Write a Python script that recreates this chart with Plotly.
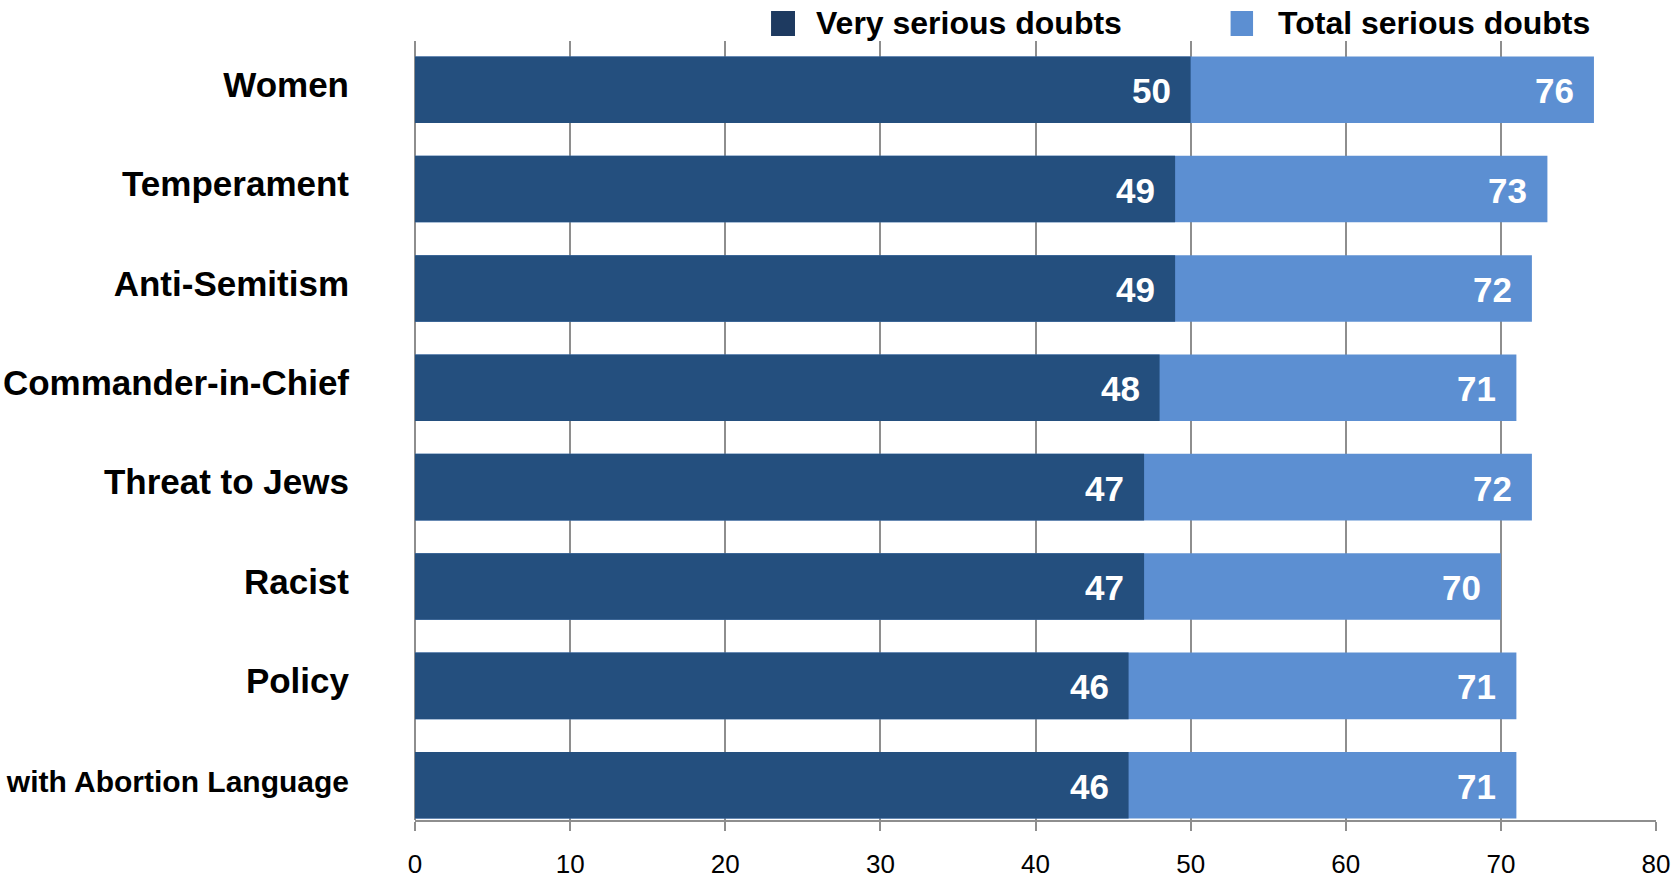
import plotly.graph_objects as go

categories = ["Women", "Temperament", "Anti-Semitism", "Commander-in-Chief",
              "Threat to Jews", "Racist", "Policy", "with Abortion Language"]
very_serious = [50, 49, 49, 48, 47, 47, 46, 46]
total_serious = [76, 73, 72, 71, 72, 70, 71, 71]
x_ticks = [0, 10, 20, 30, 40, 50, 60, 70, 80]
series_names = ["Very serious doubts", "Total serious doubts"]

DARK = "#244F7E"
LIGHT = "#5C8FD2"
LEGEND_DARK = "#1E3A60"
GRID = "#8E8E8E"
FONT = "Liberation Sans, Arial, sans-serif"

fig = go.Figure()
fig.add_trace(go.Bar(
    y=categories, x=total_serious, orientation="h", name=series_names[1],
    marker=dict(color=LIGHT, line=dict(width=0)), showlegend=False,
    hoverinfo="x+y",
))
fig.add_trace(go.Bar(
    y=categories, x=very_serious, orientation="h", name=series_names[0],
    marker=dict(color=DARK, line=dict(width=0)), showlegend=False,
    hoverinfo="x+y",
))

annotations = []
for cat, v, t in zip(categories, very_serious, total_serious):
    for val in (v, t):
        annotations.append(dict(
            x=val, y=cat, xref="x", yref="y", text=str(val), showarrow=False,
            xanchor="right", yanchor="middle", xshift=-18, yshift=-1,
            font=dict(family=FONT, size=35, color="white", weight="bold"),
        ))

# manual legend (swatches + text)
legend_items = [(series_names[0], LEGEND_DARK, 0.2869, 0.3062, 0.3215),
                (series_names[1], LIGHT, 0.6572, 0.6753, 0.6940)]
shapes = []
for name, col, x0, x1, xt in legend_items:
    shapes.append(dict(type="rect", xref="paper", yref="paper",
                       x0=x0, x1=x1, y0=1.0064, y1=1.0385,
                       fillcolor=col, line=dict(width=0), layer="above"))
    annotations.append(dict(
        x=xt, y=1.0225, xref="paper", yref="paper", text=name, showarrow=False,
        xanchor="left", yanchor="middle",
        font=dict(family=FONT, size=32, color="black", weight="bold"),
    ))

tick_text = [c if len(c) < 20 else '<span style="font-size:30px">' + c + "</span>"
             for c in categories]

fig.update_layout(
    width=1675, height=881,
    margin=dict(l=415, r=19, t=41, b=61, autoexpand=False),
    barmode="overlay", bargap=0.33,
    plot_bgcolor="white", paper_bgcolor="white",
    showlegend=False,
    annotations=annotations, shapes=shapes,
    font=dict(family=FONT),
)
fig.update_xaxes(
    range=[0, 80], tickvals=x_ticks, ticktext=[str(t) for t in x_ticks],
    showgrid=True, gridcolor=GRID, gridwidth=2,
    zeroline=True, zerolinecolor=GRID, zerolinewidth=2,
    showline=True, linecolor=GRID, linewidth=2,
    ticks="outside", ticklen=9, tickwidth=2, tickcolor=GRID,
    ticklabelstandoff=11,
    tickfont=dict(family=FONT, size=26, color="black"),
    automargin=False,
)
fig.update_yaxes(
    type="category", categoryorder="array", categoryarray=categories,
    tickvals=categories, ticktext=tick_text,
    range=[7.35, -0.49], showgrid=False, zeroline=False, showline=False,
    ticks="", ticklabelstandoff=65, ticklabelshift=5,
    tickfont=dict(family=FONT, size=35, color="black", weight="bold"),
    automargin=False,
)

fig.write_html(
    "out.html",
    config={"displayModeBar": False},
    post_script="document.body.style.margin='0';document.body.style.overflow='hidden';",
)
